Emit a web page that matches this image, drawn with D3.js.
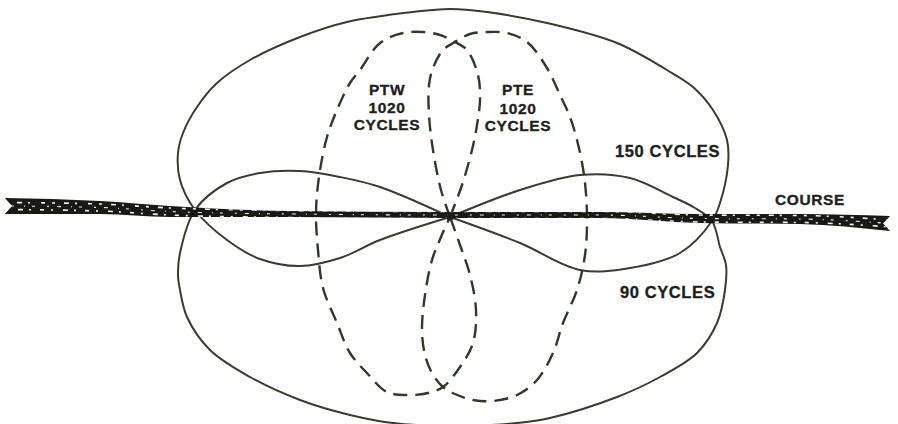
<!DOCTYPE html>
<html>
<head>
<meta charset="utf-8">
<script src="https://cdnjs.cloudflare.com/ajax/libs/d3/7.8.5/d3.min.js"></script>
<style>
	body { margin: 0; background: #fff; }
	svg { display: block; }
	.lbl { font-family: "Liberation Sans", Arial, sans-serif; font-weight: bold; fill: #1f1f1c; stroke: #1f1f1c; stroke-width: 0.35; }
</style>
</head>
<body onload="onLoad()">
<div></div>
<script>
// station-centred coordinates, x east, y north
var pattern150 = [[0,0],[-70,-23],[-110,-41],[-150,-49],[-190,-42],[-223,-23],[-255,7],[-270,37],[-272,64],
	[-267,84],[-253,110],[-233,134],[-200,157],[-150,180],[-103,195],[-37,205],[0,208],[37,205],[97,194],
	[167,174],[217,147],[243,130],[263,107],[277,77],[278,52],[270,14],[262,-4],[230,-36],[180,-51],[130,-53],
	[70,-26],[0,0]];

var pattern90 = [[0,0],[-70,30],[-110,40],[-150,46],[-190,44],[-223,34],[-255,7],[-270,-36],[-272,-58],
	[-270,-73],[-263,-100],[-240,-133],[-200,-160],[-150,-183],[-100,-198],[-57,-206],[5,-209],[67,-206],
	[100,-201],[167,-180],[210,-160],[247,-136],[267,-106],[275,-73],[276,-48],[270,-30],[262,-4],[245,9],
	[223,20],[180,39],[130,42],[70,27],[0,0]];

var patternPTW = [[0,0],[12,32],[22,67],[27,92],[30,117],[28,142],[17,167],[5,175],[-10,182],[-27,185],
	[-47,184],[-70,174],[-90,147],[-100,134],[-113,107],[-123,80],[-131,40],[-134,4],[-132,-33],[-127,-71],
	[-113,-106],[-100,-136],[-83,-156],[-63,-175],[-40,-178],[-22,-176],[-7,-170],[10,-150],[23,-126],
	[26,-93],[20,-58],[10,-28],[0,0]];

var patternPTE = [[0,0],[-9,27],[-17,67],[-21,102],[-21,132],[-17,149],[-7,167],[5,175],[20,183],[37,185],
	[57,184],[77,175],[97,149],[110,122],[120,100],[127,77],[134,42],[137,2],[135,-38],[127,-73],[113,-106],
	[103,-136],[87,-163],[67,-178],[43,-184],[23,-183],[5,-177],[-7,-170],[-18,-156],[-25,-138],[-28,-113],
	[-25,-78],[-18,-43],[-9,-20],[0,0]];

var courseX = [-445, -350, -280, -160, 0, 150, 250, 350, 440],
	courseTop = [19, 16, 11, 6, 5, 5, 3, 3, 1],
	courseBottom = [3, 3, 0, 0, -1, -1, -6, -7, -14];

var labelText = ["PTW", "1020", "CYCLES", "PTE", "1020", "CYCLES", "150 CYCLES", "90 CYCLES", "COURSE"],
	labelX = [-63, -63, -63, 68, 68, 68, 165, 170, 325],
	labelY = [122, 104, 87, 122, 103, 86, 60, -81, 12];

var svgContainer,
	width = 898,
	height = 424,
	x = d3.scaleLinear().domain([-450, 448]).range([0, width]),
	y = d3.scaleLinear().domain([217, -207]).range([0, height]);

function onLoad() {
	svgContainer = d3.select("div")
	.append("svg")
	.attr("width", width)
	.attr("height", height);

	var line = d3.line()
	.x(d => x(d[0]))
	.y(d => y(d[1]))
	.curve(d3.curveCatmullRom.alpha(0.5));

	// solid 150 / 90 cycle patterns
	[pattern150, pattern90].forEach(function (p) {
		svgContainer.append("path")
		.attr("d", line(p))
		.attr("fill", "none")
		.attr("stroke", "#3a3c2f")
		.attr("stroke-width", 2);
	});

	// dashed 1020 cycle patterns
	[patternPTW, patternPTE].forEach(function (p) {
		svgContainer.append("path")
		.attr("d", line(p))
		.attr("fill", "none")
		.attr("stroke", "#2e3a2a")
		.attr("stroke-width", 2.4)
		.attr("stroke-dasharray", "14 8");
	});

	drawCourse();

	svgContainer.append("circle")
	.attr("cx", x(0))
	.attr("cy", y(0))
	.attr("r", 3.5)
	.attr("fill", "#1e1e1a");

	labelText.forEach(function (t, i) {
		var isStack = i < 6;
		svgContainer.append("text")
		.attr("class", "lbl")
		.attr("x", x(labelX[i]))
		.attr("y", y(labelY[i]))
		.attr("text-anchor", isStack ? "middle" : "start")
		.attr("font-size", i == 6 || i == 7 ? 16.5 : 15.5)
		.attr("letter-spacing", 0.6)
		.text(t);
	});
}

function drawCourse() {
	var rows = courseX.map((cx, i) => ({x: cx, top: courseTop[i], bottom: courseBottom[i]}));

	var area = d3.area()
	.x(d => x(d.x))
	.y0(d => y(d.top))
	.y1(d => y(d.bottom))
	.curve(d3.curveMonotoneX);

	svgContainer.append("clipPath")
	.attr("id", "courseClip")
	.append("path")
	.attr("d", area(rows));

	svgContainer.append("path")
	.attr("d", area(rows))
	.attr("fill", "#191915");

	// white speckle texture along the course, sparse
	var offsets = [-3.5, 0, 3.5],
		dashes = ["3 9 5 6 2 11 4 7", "2 8 4 10 1 7 3 12", "4 7 2 10 5 6 2 9"];
	offsets.forEach(function (o, i) {
		var mid = d3.line()
		.x(d => x(d.x))
		.y(d => y((d.top + d.bottom) / 2) + o)
		.curve(d3.curveMonotoneX);
		svgContainer.append("path")
		.attr("d", mid(rows))
		.attr("clip-path", "url(#courseClip)")
		.attr("fill", "none")
		.attr("stroke", "#f4f4f0")
		.attr("stroke-width", i == 1 ? 1.1 : 1.6)
		.attr("stroke-dasharray", dashes[i])
		.attr("stroke-dashoffset", i * 5);
	});

	// swallow-tail notches at both ends
	var ends = [rows[0], rows[rows.length - 1]];
	ends.forEach(function (d, i) {
		var dir = i == 0 ? 1 : -1;
		svgContainer.append("path")
		.attr("d", "M" + x(d.x - dir) + "," + y(d.top + 1) +
			"L" + x(d.x + dir * 7) + "," + y((d.top + d.bottom) / 2) +
			"L" + x(d.x - dir) + "," + y(d.bottom - 1) + "Z")
		.attr("fill", "#fff");
	});
}
</script>
</body>
</html>
